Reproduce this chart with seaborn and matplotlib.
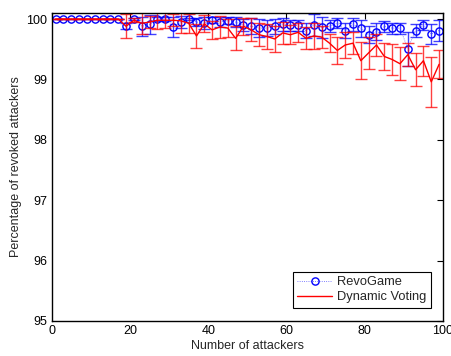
import numpy as np
import pandas as pd
import matplotlib
matplotlib.use("Agg")
import matplotlib.pyplot as plt
import seaborn as sns

# Number of attackers (odd counts 1..99)
attackers = list(range(1, 100, 2))

revogame_mean = [
    100.0, 100.0, 100.0, 100.0, 100.0, 100.0, 100.0, 100.0, 100.0, 99.89,
    100.0, 99.88, 99.91, 100.0, 100.0, 99.87, 99.95, 100.0, 99.95, 99.93,
    99.99, 99.95, 99.97, 99.95, 99.90, 99.88, 99.85, 99.85, 99.88, 99.91,
    99.90, 99.90, 99.81, 99.90, 99.86, 99.88, 99.93, 99.81, 99.91, 99.85,
    99.74, 99.79, 99.88, 99.85, 99.85, 99.51, 99.81, 99.90, 99.75, 99.81,
]
revogame_err = [
    0.0, 0.0, 0.0, 0.0, 0.0, 0.0, 0.0, 0.0, 0.0, 0.05,
    0.02, 0.16, 0.16, 0.03, 0.03, 0.16, 0.10, 0.02, 0.06, 0.10,
    0.05, 0.08, 0.06, 0.08, 0.10, 0.13, 0.15, 0.13, 0.12, 0.10,
    0.09, 0.09, 0.12, 0.18, 0.18, 0.10, 0.08, 0.12, 0.10, 0.14,
    0.14, 0.14, 0.09, 0.09, 0.09, 0.28, 0.11, 0.08, 0.16, 0.18,
]

voting_mean = [
    100.0, 100.0, 100.0, 100.0, 100.0, 100.0, 100.0, 100.0, 100.0, 99.88,
    99.98, 99.93, 99.95, 99.98, 99.98, 99.98, 99.97, 99.93, 99.72, 99.92,
    99.82, 99.87, 99.85, 99.68, 99.88, 99.82, 99.74, 99.71, 99.67, 99.77,
    99.74, 99.78, 99.68, 99.72, 99.70, 99.60, 99.48, 99.57, 99.60, 99.31,
    99.44, 99.57, 99.38, 99.33, 99.26, 99.41, 99.16, 99.31, 98.96, 99.25,
]
voting_err = [
    0.0, 0.0, 0.0, 0.0, 0.0, 0.0, 0.0, 0.0, 0.0, 0.20,
    0.03, 0.18, 0.10, 0.15, 0.13, 0.10, 0.20, 0.16, 0.20, 0.14,
    0.15, 0.18, 0.15, 0.20, 0.14, 0.19, 0.19, 0.20, 0.21, 0.18,
    0.16, 0.16, 0.18, 0.22, 0.18, 0.15, 0.22, 0.21, 0.18, 0.31,
    0.26, 0.18, 0.22, 0.25, 0.27, 0.19, 0.27, 0.25, 0.41, 0.23,
]

x_ticks = [0, 20, 40, 60, 80, 100]
y_ticks = [95, 96, 97, 98, 99, 100]

sns.set_style("white")
plt.rcParams["font.family"] = ["Liberation Sans", "DejaVu Sans"]
plt.rcParams["font.size"] = 9

fig = plt.figure(figsize=(4.52, 3.56), dpi=100)
ax = fig.add_axes([0.1144, 0.0985, 0.8657, 0.865])

blue = (0.0, 0.0, 1.0)
red = (1.0, 0.0, 0.0)

# RevoGame: dotted line with open circles plus error bars
ax.errorbar(attackers, revogame_mean, yerr=revogame_err, fmt="none",
            ecolor=blue, elinewidth=1.0, capsize=4, capthick=1.0, alpha=0.75)
sns.lineplot(x=attackers, y=revogame_mean, ax=ax, color=(0.35, 0.35, 1.0),
             linestyle=":", linewidth=0.6, marker="o", markersize=5.2,
             markerfacecolor="none", markeredgecolor=blue, markeredgewidth=1.0,
             label="RevoGame")

# Dynamic Voting: solid red line plus error bars
ax.errorbar(attackers, voting_mean, yerr=voting_err, fmt="none",
            ecolor=red, elinewidth=1.0, capsize=4, capthick=1.0, alpha=0.75)
sns.lineplot(x=attackers, y=voting_mean, ax=ax, color=red, linestyle="-",
             linewidth=1.0, label="Dynamic Voting")

ax.set_xlim(0, 100)
ax.set_ylim(95, 100.1)
ax.set_xticks(x_ticks)
ax.set_yticks(y_ticks)
ax.set_xlabel("Number of attackers", labelpad=2)
ax.set_ylabel("Percentage of revoked attackers", labelpad=3)

for side in ["top", "right", "bottom", "left"]:
    ax.spines[side].set_visible(True)
    ax.spines[side].set_color("black")
    ax.spines[side].set_linewidth(1.0)
ax.tick_params(direction="in", length=4, width=0.8, top=True, right=True,
               colors="black", labelsize=9, pad=3)

leg = ax.legend(loc="lower right", bbox_to_anchor=(0.969, 0.042),
                frameon=True, fancybox=False, framealpha=1, edgecolor="black",
                handlelength=2.7, borderpad=0.35, labelspacing=0.25,
                handletextpad=0.4, borderaxespad=0, fontsize=9.3)
leg.get_frame().set_linewidth(0.8)

fig.savefig("out.png", dpi=100, facecolor="white")
